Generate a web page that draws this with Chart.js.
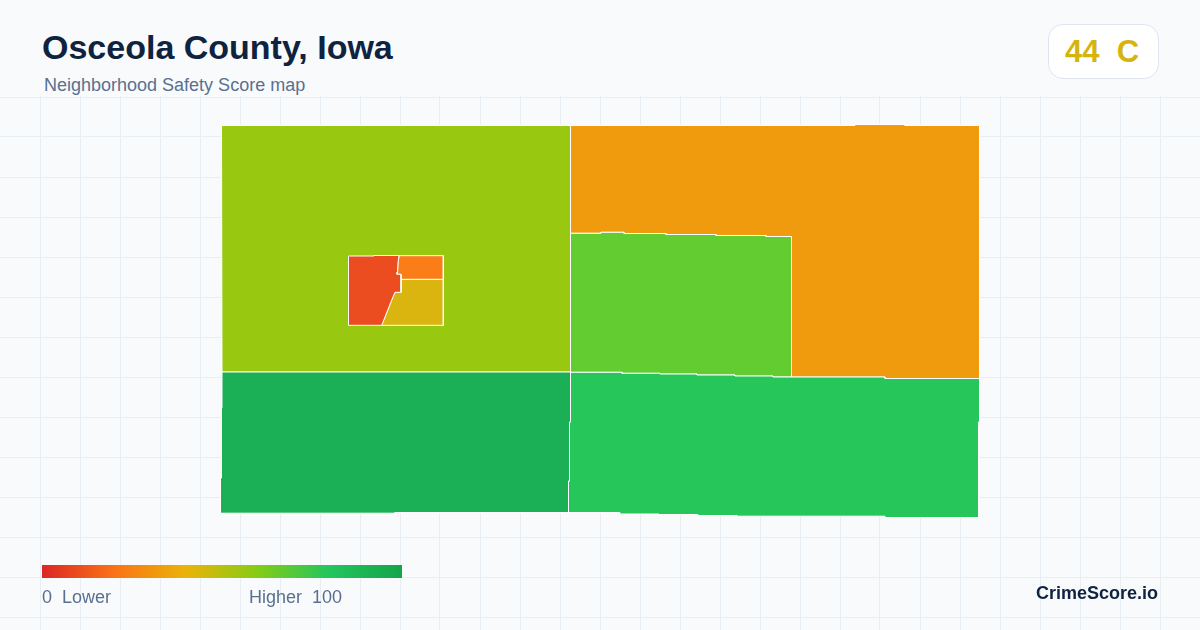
<!DOCTYPE html>
<html><head><meta charset="utf-8">
<script src="https://cdn.jsdelivr.net/npm/chart.js@4"></script>
<style>
html,body{margin:0;padding:0;width:1200px;height:630px;overflow:hidden;background:#f8fafc;font-family:"Liberation Sans",Arial,sans-serif}
#c{position:absolute;left:0;top:96px}
.t{position:absolute;white-space:pre;line-height:1}
#title{left:42px;top:30px;font-size:34px;font-weight:700;color:#0f2340}
#sub{left:44px;top:76px;font-size:18px;color:#5a7090}
#badge{position:absolute;left:1048px;top:24px;width:109px;height:53px;background:#fff;border:1px solid #dfe5ee;border-radius:15px;box-sizing:content-box}
#score{left:1065px;top:36px;font-size:31px;font-weight:700;color:#d6b40e}
#ramp{position:absolute;left:42px;top:565px;width:360px;height:13px;background:linear-gradient(90deg,#dc2626 0%,#f97316 20%,#eab308 40%,#84cc16 60%,#22c55e 80%,#16a34a 100%)}
#lo{left:42px;top:588px;font-size:18px;color:#5a7090}
#hi{left:249px;top:588px;font-size:18px;color:#5a7090}
#brand{right:42px;top:584px;font-size:18px;font-weight:700;color:#0f2340}
</style></head><body>
<canvas id="c" width="1200" height="534"></canvas>
<div class="t" id="title">Osceola County, Iowa</div>
<div class="t" id="sub">Neighborhood Safety Score map</div>
<div id="badge"></div><div class="t" id="score">44  C</div>
<div id="ramp"></div>
<div class="t" id="lo">0  Lower</div><div class="t" id="hi">Higher  100</div>
<div class="t" id="brand">CrimeScore.io</div>
<script>
const gridX=[40,80,120,160,200,240,280,320,360,400,440,480,520,560,600,640,680,720,760,800,840,880,920,960,1000,1040,1080,1120,1160];
const gridY=[97,137,177,217,257,297,337,377,417,457,497,537,577,617];

const tractNames=["West town","Town centre","East town","South-west","South-east","Centre-east","North-east","North-west"];
const tractColors=["#ec4d20","#fb7d17","#dab510","#1bb055","#27c65a","#62cc30","#f09a0e","#98c910"];

const westTownX=[348.5,374,374,399,398,397.5,397,401,401,395,391.7,381.7,348.5,348.5];
const westTownY=[256,256,255.5,255.5,263,272,274.3,274.3,292.3,292.3,300,325.3,325.3,256];
const centreTownX=[399,443.3,443.3,401,401,397,397.5,398,399];
const centreTownY=[255.7,255.7,279.3,279.3,274.3,274.3,272,263,255.7];
const eastTownX=[401,443.3,443.3,381.7,391.7,395,401,401];
const eastTownY=[279.3,279.3,325.3,325.3,300,292.3,292.3,279.3];
const southWestX=[222,570.5,570.5,569.5,569.5,568.5,568.5,395,395,220.5,220.5,221.5,221.5,222,222];
const southWestY=[372,372,422,422,481,481,512.5,512.5,513.2,513.2,478,478,408,408,372];
const southEastX=[570.5,622,622,660,660,697,697,735,735,773,773,885,885,979.5,979.5,978.5,978.5,885,885,737,737,698,698,659,659,620,620,568.5,568.5,569.5,569.5,570.5,570.5];
const southEastY=[372.3,372.3,373.3,373.3,374,374,375,375,376,376,377,377,378.5,378.5,422,422,517.5,517.5,516.2,516.2,515.5,515.5,514.5,514.5,514,514,512.5,512.5,481,481,422,422,372.3];
const centreEastX=[570.5,601,601,624,624,666,666,716,716,766,766,791.5,791.5,773,773,735,735,697,697,660,660,622,622,570.5,570.5];
const centreEastY=[233.3,233.3,232.3,232.3,233.5,233.5,234.5,234.5,235.5,235.5,236.5,236.5,377,377,376,376,375,375,374,374,373.3,373.3,372.3,372.3,233.3];
const northEastX=[570.5,855,855,905,905,979.5,979.5,885,885,791.5,791.5,766,766,716,716,666,666,624,624,601,601,570.5,570.5];
const northEastY=[125.5,125.5,124.5,124.5,125.5,125.5,378.5,378.5,377,377,236.5,236.5,235.5,235.5,234.5,234.5,233.5,233.5,232.3,232.3,233.3,233.3,125.5];
const northWestX=[221.5,570.5,570.5,222,221.5];
const northWestY=[125.5,125.5,372,372,125.5];

const shapes=[[westTownX,westTownY],[centreTownX,centreTownY],[eastTownX,eastTownY],[southWestX,southWestY],[southEastX,southEastY],[centreEastX,centreEastY],[northEastX,northEastY],[northWestX,northWestY]];

new Chart(document.getElementById('c'),{
  type:'scatter',
  data:{datasets:shapes.map(([xs,ys],i)=>({
    label:tractNames[i],
    data:xs.map((x,j)=>({x,y:ys[j]})),
    showLine:true,fill:'shape',tension:0,
    backgroundColor:tractColors[i],borderColor:'#ffffff',borderWidth:1,
    pointRadius:0,pointHoverRadius:0,clip:false
  }))},
  options:{
    responsive:false,animation:false,devicePixelRatio:1,
    layout:{padding:0},
    plugins:{legend:{display:false},tooltip:{enabled:false},title:{display:false}},
    scales:{
      x:{type:'linear',min:0,max:1200,border:{display:false},
         grid:{color:'#e8eff4',lineWidth:1,drawTicks:false},
         ticks:{display:false},
         afterBuildTicks:a=>{a.ticks=gridX.map(value=>({value}))}},
      y:{type:'linear',min:96,max:630,reverse:true,border:{display:false},
         grid:{color:'#e8eff4',lineWidth:1,drawTicks:false},
         ticks:{display:false},
         afterBuildTicks:a=>{a.ticks=gridY.map(value=>({value}))}}
    }
  }
});
</script>
</body></html>
